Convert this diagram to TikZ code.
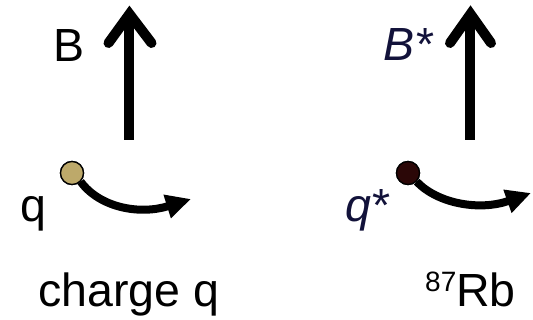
\documentclass[tikz,border=0pt]{standalone}
\usepackage{fontspec}
\setmainfont{Liberation Sans}
\usetikzlibrary{arrows.meta}
\definecolor{navy}{HTML}{12123A}
\definecolor{tan}{HTML}{BDA96A}
\definecolor{darkdot}{HTML}{2B0707}
\tikzset{
  lbl/.style={inner sep=0pt, anchor=base, font=\fontsize{46.5}{54}\selectfont},
  shaft/.style={line width=10pt},
  chevron/.style={line width=10pt, line cap=round, line join=miter},
  orbit/.style={line width=8pt, -{Triangle[length=25pt,width=23pt]}},
  particle/.style={circle, draw=black, line width=1.3pt, minimum size=23pt, inner sep=0pt}
}
\begin{document}
\begin{tikzpicture}[x=1pt,y=-1pt]
\useasboundingbox (0,0) rectangle (533,320);
% left
\coordinate (lbot) at (129,140);
\coordinate (ltip) at (129.5,14);
\draw[shaft] (lbot) -- (129,20);
\draw[chevron] (108.5,43) -- (ltip) -- (151.5,43);
\node[lbl] (lB) at (69,62) {B};
\node[particle, fill=tan] (ldot) at (72,173) {};
\coordinate (lend) at (191,199);
\draw[orbit] (ldot.south east) .. controls (100,208) and (140,215) .. (lend);
\node[particle, fill=tan] at (72,173) {};
\node[lbl] (lq) at (33,222) {q};
\node[lbl] (lcap) at (129,307) {charge q};
% right
\coordinate (rbot) at (470,140);
\coordinate (rtip) at (470.5,14);
\draw[shaft] (rbot) -- (470,20);
\draw[chevron] (450,43) -- (rtip) -- (491,43);
\node[lbl, text=navy] (rB) at (408,61) {\itshape B*};
\node[particle, fill=darkdot] (rdot) at (408,173) {};
\coordinate (rend) at (531,193);
\draw[orbit] (rdot.south east) .. controls (438,204) and (480,211) .. (rend);
\node[particle, fill=darkdot] at (408,173) {};
\node[lbl, text=navy] (rq) at (367,222) {\itshape q*};
\node[lbl] (rcap) at (470.5,307) {{\fontsize{28}{30}\selectfont\raisebox{15pt}{87}}Rb};
\end{tikzpicture}
\end{document}
